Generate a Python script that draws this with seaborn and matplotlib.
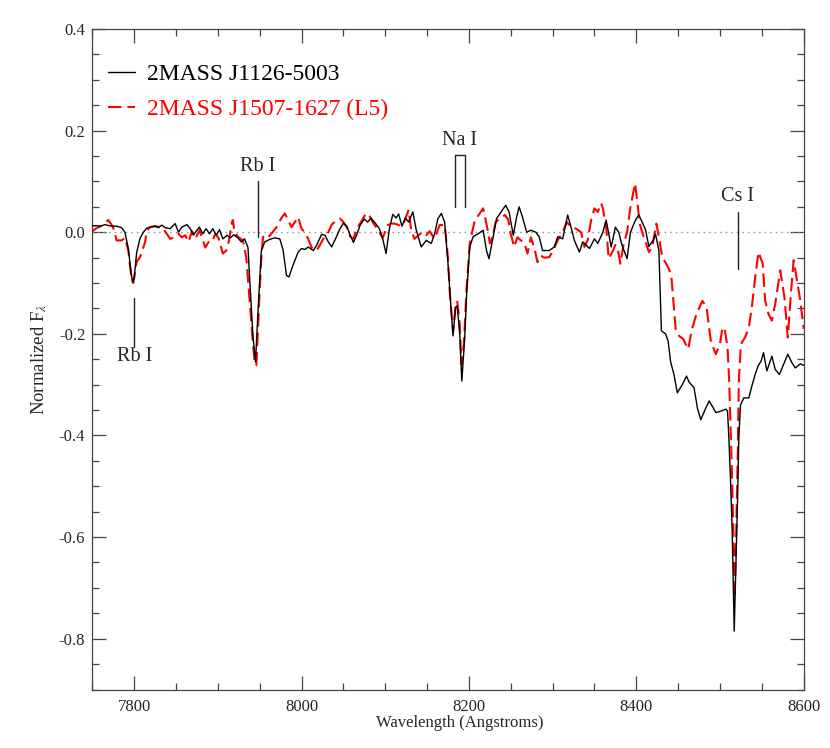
import numpy as np
import pandas as pd
import matplotlib
matplotlib.use("Agg")
import matplotlib.pyplot as plt
import seaborn as sns
from matplotlib.ticker import MultipleLocator, FormatStrFormatter

# ---------------- data ----------------
wave_j1126 = [7748, 7754, 7760, 7765, 7770, 7774, 7779, 7785, 7789, 7793, 7796, 7798, 7800, 7803, 7807,
              7811, 7815, 7819, 7825, 7829, 7833, 7837, 7843, 7849, 7853, 7857, 7863, 7867, 7871, 7875,
              7878, 7882, 7886, 7890, 7894, 7898, 7902, 7906, 7911, 7915, 7919, 7924, 7928, 7932, 7936,
              7938, 7942, 7945, 7948, 7952, 7956, 7962, 7968, 7974, 7978, 7982, 7985, 7990, 7996, 8000,
              8004, 8008, 8014, 8018, 8024, 8028, 8032, 8036, 8040, 8046, 8050, 8054, 8058, 8062, 8066,
              8070, 8075, 8079, 8083, 8089, 8093, 8097, 8101, 8105, 8109, 8113, 8116, 8120, 8124, 8128,
              8133, 8137, 8143, 8149, 8155, 8159, 8163, 8167, 8171, 8175, 8178, 8181, 8184, 8186, 8189,
              8191.5, 8195, 8197.5, 8201, 8205, 8211, 8217, 8221, 8224, 8229, 8233, 8236, 8240, 8244, 8248,
              8253, 8257, 8260, 8264, 8269, 8274, 8280, 8284, 8288, 8296, 8302, 8306, 8312, 8318, 8322,
              8326, 8332, 8336, 8340, 8344, 8350, 8354, 8360, 8364, 8370, 8375, 8379, 8383, 8389, 8393,
              8399, 8403, 8407, 8411, 8415, 8420, 8423, 8427, 8430, 8435, 8438, 8441, 8445, 8449, 8455,
              8460, 8463, 8469, 8473, 8477, 8483, 8487, 8491, 8495, 8503, 8507, 8509, 8510.6, 8512.6, 8514.6,
              8516, 8517, 8519, 8521, 8522.5, 8524.5, 8528.5, 8534.5, 8538, 8542, 8545.5, 8549, 8552, 8556, 8562,
              8566, 8571, 8576, 8581, 8586, 8590, 8596, 8600]
flux_j1126 = [0.012, 0.013, 0.012, 0.015, 0.013, 0.012, 0.012, 0.009, 0.0, -0.032, -0.075, -0.098, -0.09, -0.04, -0.012,
              0.0, 0.008, 0.01, 0.012, 0.009, 0.014, 0.009, 0.007, 0.017, 0.0, 0.01, 0.015, 0.007, -0.005, 0.004,
              0.01, -0.003, 0.007, -0.003, 0.007, -0.006, 0.005, -0.013, -0.006, -0.011, -0.005, -0.011, -0.019, -0.013, -0.03,
              -0.09, -0.205, -0.255, -0.155, -0.036, -0.019, -0.014, -0.011, -0.013, -0.035, -0.085, -0.088, -0.064, -0.039, -0.032,
              -0.034, -0.029, -0.036, -0.026, -0.004, -0.006, -0.019, -0.029, -0.015, 0.007, 0.018, 0.012, -0.005, -0.02, -0.005,
              0.014, 0.026, 0.02, 0.028, 0.016, 0.007, -0.013, -0.042, 0.007, 0.035, 0.028, 0.036, 0.012, 0.028, 0.02,
              0.04, 0.005, -0.029, -0.016, -0.022, -0.003, 0.027, 0.037, 0.02, -0.062, -0.135, -0.204, -0.148, -0.145, -0.2,
              -0.293, -0.207, -0.115, -0.029, -0.009, -0.003, 0.004, -0.036, -0.052, -0.009, 0.027, 0.034, 0.044, 0.053, 0.04,
              -0.006, 0.03, 0.05, 0.03, 0.0, 0.004, 0.0, -0.009, -0.036, -0.036, -0.029, -0.009, -0.013, 0.034, 0.01,
              -0.016, -0.039, -0.019, -0.025, -0.032, -0.013, -0.022, 0.0, 0.024, -0.029, 0.01, 0.0, -0.026, -0.052, 0.0,
              0.024, 0.034, 0.02, 0.005, -0.028, -0.016, -0.004, -0.036, -0.194, -0.2, -0.214, -0.255, -0.28, -0.316, -0.3,
              -0.283, -0.295, -0.306, -0.346, -0.369, -0.346, -0.332, -0.343, -0.355, -0.351, -0.348, -0.352, -0.405, -0.49, -0.59,
              -0.71, -0.785, -0.656, -0.524, -0.405, -0.34, -0.326, -0.326, -0.303, -0.28, -0.263, -0.254, -0.237, -0.273, -0.244,
              -0.27, -0.28, -0.26, -0.24, -0.257, -0.267, -0.259, -0.262]

wave_j1507 = [7748, 7754, 7760, 7765, 7769, 7773, 7776, 7779, 7785, 7789, 7793, 7796, 7799, 7801, 7803,
              7807, 7810, 7813, 7815, 7819, 7825, 7831, 7835, 7839, 7843, 7848, 7853, 7857, 7861, 7865,
              7869, 7873, 7878, 7885, 7889, 7893, 7897, 7901, 7906, 7910, 7913, 7917, 7918, 7920, 7924,
              7930, 7934, 7938, 7942, 7944, 7946, 7948, 7950, 7952, 7954, 7958, 7964, 7970, 7976, 7980,
              7984, 7988, 7992, 7996, 8000, 8004, 8008, 8012, 8018, 8022, 8026, 8032, 8036, 8041, 8046,
              8050, 8054, 8058, 8062, 8066, 8071, 8077, 8081, 8085, 8089, 8093, 8097, 8103, 8107, 8111,
              8115, 8119, 8123, 8128, 8131, 8135, 8141, 8145, 8149, 8153, 8159, 8165, 8171, 8175, 8177,
              8181, 8184, 8186, 8189, 8191, 8194, 8197, 8201, 8207, 8213, 8217, 8223, 8225, 8228, 8232,
              8238, 8243, 8247, 8250, 8254, 8258, 8262, 8266, 8270, 8274, 8278, 8282, 8286, 8290, 8296,
              8301, 8306, 8312, 8317, 8322, 8328, 8334, 8338, 8342, 8346, 8350, 8354, 8358, 8360, 8364,
              8367, 8371, 8375, 8378, 8381, 8385, 8389, 8393, 8398.5, 8401, 8404, 8408, 8411, 8415, 8419,
              8424, 8427, 8431, 8435, 8439, 8442, 8447, 8451, 8456, 8462, 8466, 8472, 8479, 8484, 8489,
              8495, 8500, 8503, 8506, 8509, 8511, 8514, 8516, 8517.5, 8519, 8521, 8522.5, 8525, 8530, 8534.5,
              8538, 8542, 8546, 8551, 8554, 8558, 8562, 8566, 8572, 8577, 8581, 8585, 8588, 8592, 8596, 8600]
flux_j1507 = [-0.001, 0.007, 0.012, 0.018, 0.024, 0.015, 0.005, -0.016, -0.016, -0.011, -0.035, -0.08, -0.1, -0.08, -0.058,
              -0.049, -0.035, -0.02, 0.002, 0.01, 0.012, 0.01, 0.006, -0.003, -0.013, -0.01, -0.003, -0.01, -0.006, -0.019,
              0.002, -0.013, 0.004, -0.03, -0.019, -0.019, -0.003, -0.012, -0.042, -0.036, -0.019, 0.02, 0.024, 0.0, -0.009,
              -0.016, -0.05, -0.135, -0.22, -0.257, -0.262, -0.188, -0.115, -0.05, -0.009, -0.013, -0.003, 0.01, 0.028, 0.037,
              0.024, 0.01, 0.02, 0.03, 0.007, 0.0, -0.013, -0.03, -0.036, -0.025, -0.013, 0.0, 0.015, 0.022, 0.027,
              0.02, 0.01, -0.008, -0.013, 0.007, 0.02, 0.037, 0.033, 0.02, 0.01, 0.0, -0.011, 0.014, 0.017, 0.017,
              0.015, 0.012, 0.022, 0.044, 0.004, -0.013, -0.004, 0.0, -0.006, 0.002, -0.013, 0.014, 0.015, -0.05, -0.115,
              -0.197, -0.148, -0.135, -0.18, -0.26, -0.22, -0.115, -0.022, 0.024, 0.037, 0.047, 0.0, -0.022, -0.01, 0.02,
              0.028, 0.034, 0.025, -0.003, -0.029, -0.01, -0.016, -0.02, -0.042, -0.01, -0.03, -0.059, -0.046, -0.05, -0.049,
              -0.035, -0.016, 0.0, 0.02, 0.01, 0.007, 0.0, -0.029, -0.015, 0.024, 0.047, 0.04, 0.057, 0.047, 0.01,
              -0.052, -0.04, -0.025, -0.035, -0.062, -0.022, 0.0, 0.05, 0.096, 0.063, 0.017, -0.005, -0.019, -0.039, -0.03,
              0.017, -0.01, -0.049, -0.06, -0.072, -0.089, -0.19, -0.204, -0.21, -0.23, -0.194, -0.16, -0.135, -0.148, -0.214,
              -0.24, -0.22, -0.187, -0.194, -0.227, -0.293, -0.458, -0.59, -0.72, -0.62, -0.458, -0.293, -0.22, -0.207, -0.187,
              -0.148, -0.089, -0.039, -0.062, -0.135, -0.161, -0.174, -0.141, -0.075, -0.128, -0.207, -0.115, -0.055, -0.095, -0.135, -0.19]

label_j1126 = "2MASS J1126-5003"
label_j1507 = "2MASS J1507-1627 (L5)"

# line identifications: (text, marker wavelength, line y0, line y1, text y)
rb_upper = ("Rb I", 7948, 0.10, -0.009, 0.13)
rb_lower = ("Rb I", 7800, -0.13, -0.225, -0.245)
cs_line = ("Cs I", 8521, 0.04, -0.072, 0.07)
na_waves = [8183, 8195]
na_y = [0.05, 0.152]
na_text_y = 0.18

# ---------------- style ----------------
sns.set_style("ticks")
plt.rcParams["font.family"] = ["Liberation Serif", "DejaVu Serif"]
plt.rcParams["mathtext.fontset"] = "stix"
plt.rcParams["axes.unicode_minus"] = False

fig = plt.figure(figsize=(8.3, 7.48), dpi=100)
ax = fig.add_axes([0.1112, 0.0782, 0.8571, 0.8830])

df1 = pd.DataFrame({"wave": wave_j1126, "flux": flux_j1126})
df2 = pd.DataFrame({"wave": wave_j1507, "flux": flux_j1507})

ax.axhline(0.0, color="#8c8c8c", lw=1.0, linestyle=(0, (1, 3)), zorder=1)

sns.lineplot(data=df1, x="wave", y="flux", ax=ax, color="black", lw=1.0,
             estimator=None, sort=False, label=label_j1126, zorder=3)
sns.lineplot(data=df2, x="wave", y="flux", ax=ax, color="#ff0000", lw=1.5,
             linestyle=(0, (6.5, 2.8)), estimator=None, sort=False, label=label_j1507, zorder=2)

# annotations
for txt, w, y0, y1, ty in [rb_upper, rb_lower, cs_line]:
    ax.plot([w, w], [y0, y1], color="#222222", lw=1.0)
    ax.text(w, ty, txt, ha="center", va="center", fontsize=14.5)
ax.plot([na_waves[0], na_waves[0], na_waves[1], na_waves[1]],
        [na_y[0], na_y[1], na_y[1], na_y[0]], color="#222222", lw=1.0)
ax.text(np.mean(na_waves), na_text_y, "Na I", ha="center", va="center", fontsize=14.5)

ax.set_xlim(7750, 8600)
ax.set_ylim(-0.9, 0.4)
ax.xaxis.set_major_locator(MultipleLocator(200))
ax.xaxis.set_minor_locator(MultipleLocator(50))
ax.yaxis.set_major_locator(MultipleLocator(0.2))
ax.yaxis.set_minor_locator(MultipleLocator(0.05))
ax.yaxis.set_major_formatter(FormatStrFormatter("%.1f"))
ax.tick_params(which="both", direction="in", top=True, right=True, color="#444444",
               labelsize=12, width=0.9)
ax.tick_params(which="major", length=10)
ax.tick_params(which="minor", length=5)
ax.tick_params(axis="x", pad=7)
ax.tick_params(axis="y", pad=5)
for s in ax.spines.values():
    s.set_color("#444444")
    s.set_linewidth(0.9)

ax.set_xlabel("Wavelength (Angstroms)", fontsize=12)
ax.xaxis.set_label_coords(0.517, -0.039)
ax.set_ylabel(r"Normalized F$_\lambda$", fontsize=13.5)
ax.yaxis.set_label_coords(-0.061, 0.5)

leg = ax.legend(loc="upper left", bbox_to_anchor=(0.0224, 0.9475), frameon=False,
                fontsize=17, handlelength=1.15, handletextpad=0.5, labelspacing=0.58,
                borderpad=0, borderaxespad=0)
for t, c in zip(leg.get_texts(), ["black", "#ff0000"]):
    t.set_color(c)

fig.savefig("out.png", dpi=100)
